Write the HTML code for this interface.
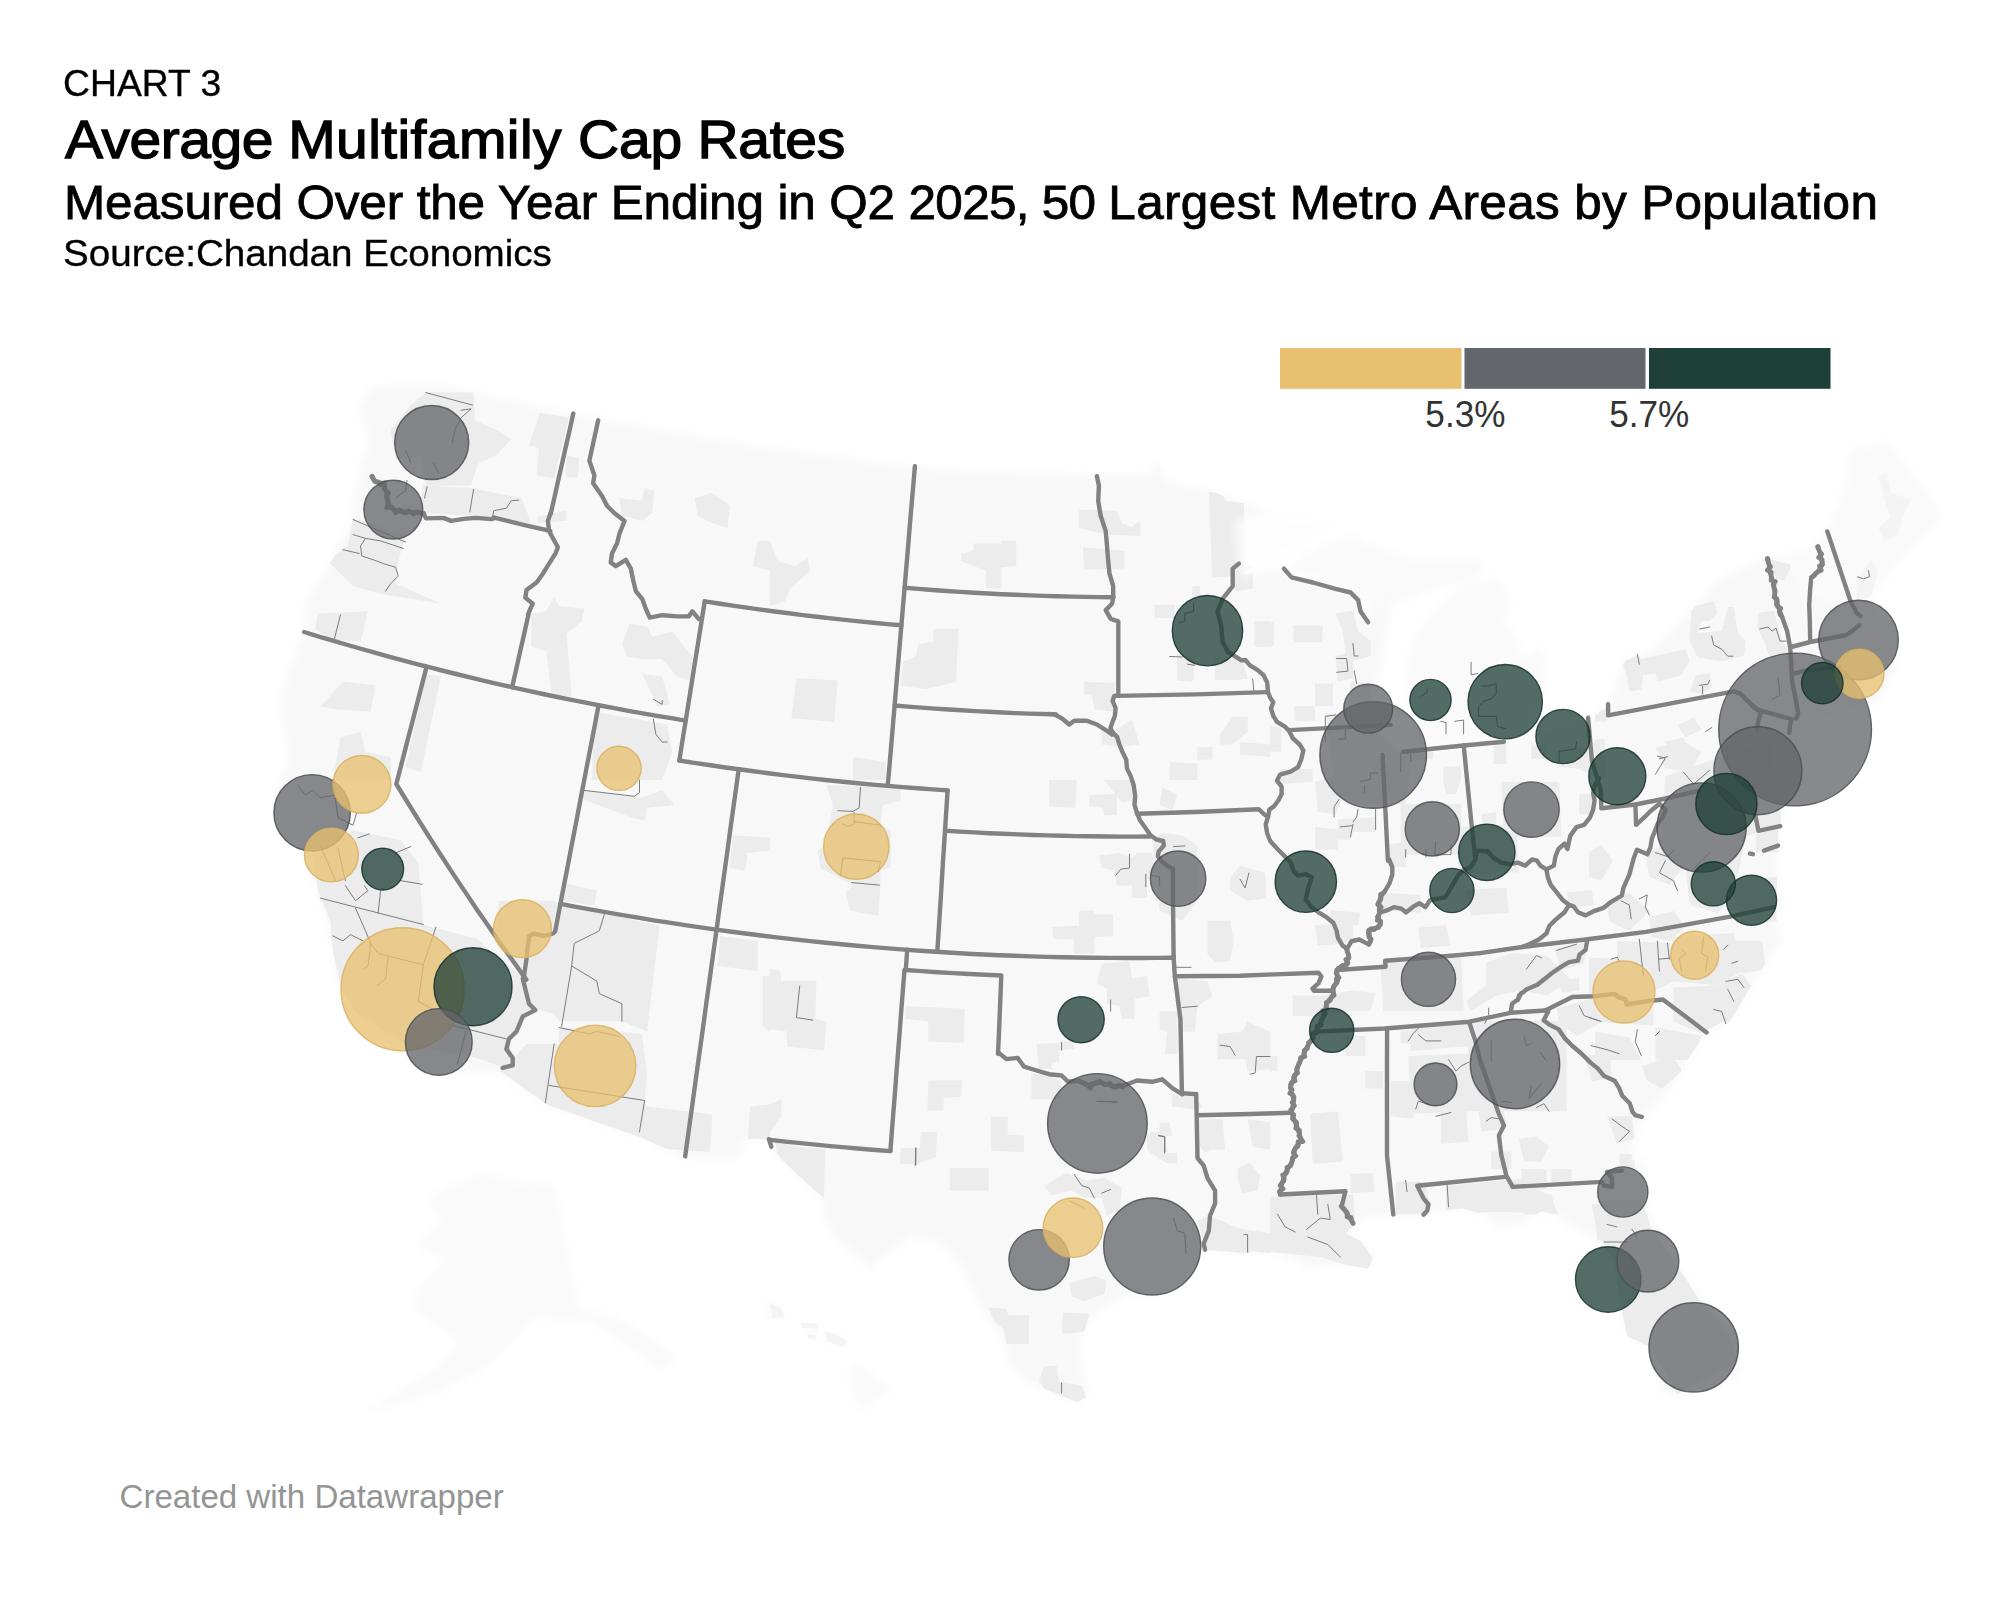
<!DOCTYPE html>
<html><head><meta charset="utf-8"><title>Chart 3</title>
<style>
html,body{margin:0;padding:0;background:#fff;}
body{width:1989px;height:1604px;position:relative;overflow:hidden;font-family:"Liberation Sans",Arial,sans-serif;color:#000;}
.t{position:absolute;left:64px;white-space:nowrap;line-height:1;transform-origin:0 0;}
#t1{left:63px;top:65.3px;font-size:37.8px;transform:scaleX(0.987);-webkit-text-stroke:0.35px #000;}
#t2{left:65px;top:113.3px;font-size:53.5px;transform:scaleX(1.065);-webkit-text-stroke:1.3px #000;}
#t3{left:63.5px;top:179px;font-size:47.3px;transform:scaleX(1.0455);-webkit-text-stroke:0.8px #000;}
#t4{left:63px;top:235.5px;font-size:36.2px;transform:scaleX(1.066);-webkit-text-stroke:0.35px #000;}
#ft{position:absolute;left:119.5px;top:1480.2px;font-size:33.1px;color:#949494;white-space:nowrap;line-height:1;}
svg{position:absolute;left:0;top:0;}
.lg{font-size:37px;fill:#333;font-family:"Liberation Sans",Arial,sans-serif;}
</style></head><body>
<svg width="1989" height="1604" viewBox="0 0 1989 1604">
<defs><filter id="bs" x="-2%" y="-2%" width="104%" height="104%"><feGaussianBlur stdDeviation="0.6"/></filter><filter id="bm"><feGaussianBlur stdDeviation="0.5"/></filter><filter id="bl" x="-5%" y="-5%" width="110%" height="110%"><feGaussianBlur stdDeviation="4"/></filter><clipPath id="lc"><path d="M423.5 385.1 L446.1 386.4 L572.5 414.0 L750.0 445.5 L914.7 467.6 L1096.9 476.1 L1152.2 474.4 L1154.7 463.1 L1162.3 465.6 L1163.5 480.7 L1210.0 490.7 L1250.0 505.8 L1290.0 520.0 L1335.0 522.0 L1300.0 545.0 L1262.0 562.0 L1240.0 575.0 L1262.0 572.0 L1284.0 568.6 L1283.9 568.6 L1291.5 577.4 L1312.8 582.5 L1335.5 588.8 L1350.6 592.5 L1358.1 600.1 L1360.6 611.4 L1368.1 622.2 L1385.0 600.0 L1392.0 585.0 L1386.0 640.0 L1376.0 690.0 L1380.0 735.0 L1398.0 752.0 L1506.0 742.0 L1540.0 735.0 L1589.0 722.0 L1608.0 704.0 L1625.2 661.1 L1655.4 647.0 L1693.6 608.8 L1717.7 578.7 L1768.0 558.5 L1790.1 564.6 L1810.2 588.7 L1830.3 600.8 L1856.5 604.8 L1870.5 598.8 L1896.7 665.1 L1880.0 700.0 L1840.0 712.0 L1800.0 725.0 L1780.1 826.5 L1778.0 852.6 L1776.0 917.0 L1782.1 941.1 L1759.9 971.3 L1729.8 1021.5 L1706.6 1032.4 L1688.5 1058.0 L1665.9 1095.7 L1641.8 1116.9 L1631.2 1160.6 L1644.7 1160.6 L1642.2 1185.7 L1647.2 1210.8 L1664.8 1248.5 L1682.4 1273.7 L1702.5 1298.8 L1735.2 1336.5 L1740.2 1374.2 L1689.9 1394.3 L1664.8 1394.3 L1649.7 1346.6 L1627.1 1336.5 L1622.0 1311.4 L1614.5 1261.1 L1607.0 1251.1 L1601.9 1241.0 L1576.8 1230.9 L1559.2 1215.9 L1541.6 1210.8 L1526.5 1220.9 L1501.4 1228.4 L1486.3 1215.9 L1463.7 1208.3 L1441.1 1210.8 L1423.5 1214.6 L1390.8 1214.6 L1370.7 1217.1 L1355.6 1223.4 L1345.5 1233.5 L1360.6 1241.0 L1373.2 1258.6 L1368.1 1268.6 L1338.0 1263.6 L1310.3 1268.6 L1295.2 1261.1 L1275.1 1253.6 L1250.0 1251.1 L1250.0 1253.6 L1205.0 1249.8 L1202.5 1261.1 L1157.2 1296.3 L1127.1 1293.8 L1101.9 1308.9 L1086.9 1324.0 L1079.3 1349.1 L1081.8 1361.7 L1086.9 1396.9 L1076.8 1401.9 L1039.1 1386.8 L1016.5 1374.2 L1008.9 1361.7 L1003.9 1341.5 L991.3 1324.0 L976.2 1298.8 L963.7 1268.6 L941.1 1243.5 L910.9 1236.0 L890.8 1251.1 L870.7 1268.6 L850.6 1251.1 L833.0 1236.0 L825.4 1220.9 L820.4 1195.7 L782.7 1160.6 L771.4 1146.7 L768.9 1139.2 L768.0 1139.0 L742.0 1139.0 L742.0 1158.0 L717.0 1158.0 L684.9 1157.2 L639.6 1137.1 L546.6 1104.4 L501.4 1074.2 L426.0 1071.7 L390.8 1044.1 L355.6 1011.4 L338.0 981.2 L333.0 951.1 L325.4 915.9 L315.4 885.7 L300.3 843.0 L273.9 810.3 L277.7 790.2 L287.7 760.0 L280.2 699.4 L287.7 674.2 L302.8 634.0 L307.8 598.8 L333.0 558.6 L350.6 520.9 L358.1 478.1 L368.1 443.0 L360.6 410.3 L368.1 387.7Z"/></clipPath></defs>
<g fill="#fafafa" filter="url(#bl)">
<path d="M442.5 1188.7 L478.7 1174.6 L555.1 1184.7 L579.2 1309.4 L619.5 1317.4 L679.8 1357.7 L659.7 1369.7 L591.3 1321.5 L535.0 1317.4 L490.7 1365.7 L434.4 1393.9 L362.0 1414.0 L438.5 1365.7 L458.6 1341.6 L414.3 1309.4 L418.3 1285.3 L446.5 1261.1 L414.3 1245.0 L442.5 1220.9 L426.4 1200.8Z"/>
<path d="M762.6 1306.4 L772.6 1301.3 L785.2 1316.4 L770.1 1318.9Z"/>
<path d="M800.3 1322.7 L820.4 1324.0 L815.4 1339.0 L807.8 1335.3Z"/>
<path d="M822.9 1330.2 L848.0 1339.0 L843.0 1346.6 L825.4 1341.5Z"/>
<path d="M853.1 1360.4 L893.3 1389.3 L860.6 1410.7 L848.0 1379.3Z"/>
<path d="M1768.0 558.5 L1810.2 548.5 L1826.3 530.4 L1840.4 500.2 L1850.4 449.9 L1886.6 439.9 L1902.7 460.0 L1930.9 496.2 L1942.9 518.3 L1900.7 560.6 L1870.5 598.8 L1856.5 604.8 L1830.3 600.8 L1810.2 588.7 L1790.1 564.6Z"/>
<path d="M1418.3 731.4 L1410.8 706.2 L1405.7 681.1 L1410.8 643.4 L1425.9 620.8 L1446.0 598.1 L1461.1 585.6 L1486.2 580.6 L1496.2 575.5 L1511.3 598.1 L1506.3 620.8 L1516.4 635.9 L1521.4 650.9 L1511.3 661.0 L1526.4 656.0 L1541.5 645.9 L1549.0 671.1 L1541.5 696.2 L1531.4 706.2 L1528.9 731.4 L1523.9 741.4 L1418.3 746.5Z"/>
<path d="M1285.1 568.0 L1332.8 585.6 L1363.0 600.7 L1370.6 620.8 L1390.7 605.7 L1410.8 598.1 L1446.0 585.6 L1476.1 578.0 L1486.2 563.0 L1466.1 555.4 L1430.9 560.4 L1400.7 555.4 L1375.6 545.4 L1353.0 535.3 L1330.3 542.8 L1305.2 555.4Z"/>
</g>
<g fill="#f8f8f8" filter="url(#bl)">
<path d="M423.5 385.1 L446.1 386.4 L572.5 414.0 L750.0 445.5 L914.7 467.6 L1096.9 476.1 L1152.2 474.4 L1154.7 463.1 L1162.3 465.6 L1163.5 480.7 L1210.0 490.7 L1250.0 505.8 L1290.0 520.0 L1335.0 522.0 L1300.0 545.0 L1262.0 562.0 L1240.0 575.0 L1262.0 572.0 L1284.0 568.6 L1283.9 568.6 L1291.5 577.4 L1312.8 582.5 L1335.5 588.8 L1350.6 592.5 L1358.1 600.1 L1360.6 611.4 L1368.1 622.2 L1385.0 600.0 L1392.0 585.0 L1386.0 640.0 L1376.0 690.0 L1380.0 735.0 L1398.0 752.0 L1506.0 742.0 L1540.0 735.0 L1589.0 722.0 L1608.0 704.0 L1625.2 661.1 L1655.4 647.0 L1693.6 608.8 L1717.7 578.7 L1768.0 558.5 L1790.1 564.6 L1810.2 588.7 L1830.3 600.8 L1856.5 604.8 L1870.5 598.8 L1896.7 665.1 L1880.0 700.0 L1840.0 712.0 L1800.0 725.0 L1780.1 826.5 L1778.0 852.6 L1776.0 917.0 L1782.1 941.1 L1759.9 971.3 L1729.8 1021.5 L1706.6 1032.4 L1688.5 1058.0 L1665.9 1095.7 L1641.8 1116.9 L1631.2 1160.6 L1644.7 1160.6 L1642.2 1185.7 L1647.2 1210.8 L1664.8 1248.5 L1682.4 1273.7 L1702.5 1298.8 L1735.2 1336.5 L1740.2 1374.2 L1689.9 1394.3 L1664.8 1394.3 L1649.7 1346.6 L1627.1 1336.5 L1622.0 1311.4 L1614.5 1261.1 L1607.0 1251.1 L1601.9 1241.0 L1576.8 1230.9 L1559.2 1215.9 L1541.6 1210.8 L1526.5 1220.9 L1501.4 1228.4 L1486.3 1215.9 L1463.7 1208.3 L1441.1 1210.8 L1423.5 1214.6 L1390.8 1214.6 L1370.7 1217.1 L1355.6 1223.4 L1345.5 1233.5 L1360.6 1241.0 L1373.2 1258.6 L1368.1 1268.6 L1338.0 1263.6 L1310.3 1268.6 L1295.2 1261.1 L1275.1 1253.6 L1250.0 1251.1 L1250.0 1253.6 L1205.0 1249.8 L1202.5 1261.1 L1157.2 1296.3 L1127.1 1293.8 L1101.9 1308.9 L1086.9 1324.0 L1079.3 1349.1 L1081.8 1361.7 L1086.9 1396.9 L1076.8 1401.9 L1039.1 1386.8 L1016.5 1374.2 L1008.9 1361.7 L1003.9 1341.5 L991.3 1324.0 L976.2 1298.8 L963.7 1268.6 L941.1 1243.5 L910.9 1236.0 L890.8 1251.1 L870.7 1268.6 L850.6 1251.1 L833.0 1236.0 L825.4 1220.9 L820.4 1195.7 L782.7 1160.6 L771.4 1146.7 L768.9 1139.2 L768.0 1139.0 L742.0 1139.0 L742.0 1158.0 L717.0 1158.0 L684.9 1157.2 L639.6 1137.1 L546.6 1104.4 L501.4 1074.2 L426.0 1071.7 L390.8 1044.1 L355.6 1011.4 L338.0 981.2 L333.0 951.1 L325.4 915.9 L315.4 885.7 L300.3 843.0 L273.9 810.3 L277.7 790.2 L287.7 760.0 L280.2 699.4 L287.7 674.2 L302.8 634.0 L307.8 598.8 L333.0 558.6 L350.6 520.9 L358.1 478.1 L368.1 443.0 L360.6 410.3 L368.1 387.7Z"/>
</g>
<g fill="#f4f4f4">
<path d="M1856.5 580.8 L1870.5 560.7 L1878.6 570.7 L1870.5 596.9 L1856.5 600.9Z"/>
<path d="M1878.6 476.2 L1886.6 472.2 L1890.7 492.3 L1910.8 500.3 L1902.7 516.4 L1898.7 534.5 L1884.6 540.6 L1878.6 528.5 L1890.7 516.4 L1884.6 500.3Z"/>
<path d="M770.0 1303.7 L780.1 1306.2 L785.1 1317.6 L772.5 1318.8Z"/>
<path d="M800.2 1322.6 L817.8 1323.8 L817.8 1328.9 L801.4 1327.6Z"/>
<path d="M807.7 1333.9 L816.5 1335.2 L816.5 1340.2 L807.7 1338.9Z"/>
<path d="M824.0 1331.4 L835.4 1333.9 L847.9 1341.4 L842.9 1346.5 L827.8 1341.4Z"/>
</g>
<g clip-path="url(#lc)"><g fill="#ececec" filter="url(#bm)">
<path d="M425.9 392.6 L473.6 392.6 L474.9 420.2 L496.2 430.3 L511.3 439.1 L496.2 455.4 L478.6 463.0 L471.1 485.6 L425.9 485.6 L420.8 455.4 L395.7 460.4 L390.7 430.3 L410.8 405.1Z"/>
<path d="M540.2 412.7 L569.1 417.7 L554.1 478.0 L536.5 475.5 L539.0 447.9 L528.9 445.4Z"/>
<path d="M566.6 455.4 L579.2 457.9 L577.9 478.0 L565.4 476.8Z"/>
<path d="M536.5 517.0 L565.4 510.7 L566.6 520.8 L537.7 523.3Z"/>
<path d="M423.3 485.6 L471.1 488.1 L521.4 498.1 L531.4 523.3 L493.7 517.0 L423.3 513.2 L420.8 500.7Z"/>
<path d="M353.0 518.3 L405.7 535.9 L398.2 561.0 L395.7 583.6 L440.9 603.7 L410.8 598.7 L380.6 593.7 L353.0 586.1 L327.8 561.0 L347.9 545.9Z"/>
<path d="M317.8 613.8 L368.0 611.3 L360.5 641.4 L330.3 638.9 L315.2 628.9Z"/>
<path d="M531.4 613.8 L546.5 611.3 L554.1 596.2 L559.1 606.2 L584.2 608.8 L581.7 621.3 L566.6 633.9 L571.7 696.7 L551.5 694.2 L546.5 651.5 L531.4 646.5Z"/>
<path d="M621.9 644.0 L629.5 623.8 L647.1 626.4 L652.1 636.4 L672.2 631.4 L692.3 656.5 L692.3 681.7 L677.2 676.6 L662.2 659.0 L642.0 659.0 L627.0 656.5Z"/>
<path d="M619.4 498.1 L642.0 500.7 L644.6 488.1 L654.6 490.6 L652.1 513.2 L642.0 520.8 L621.9 515.7Z"/>
<path d="M694.8 498.1 L712.4 493.1 L730.0 505.7 L727.5 528.3 L712.4 523.3 L697.4 515.7Z"/>
<path d="M757.7 540.9 L770.0 540.9 L770.0 571.1 L752.7 566.0Z"/>
<path d="M642.0 674.1 L662.2 676.6 L669.7 704.3 L657.1 706.8 L649.6 689.2Z"/>
<path d="M425.9 674.1 L440.9 676.6 L420.8 772.2 L405.7 767.1Z"/>
<path d="M342.9 681.7 L375.6 685.4 L370.6 711.8 L335.4 709.3 L320.3 706.8Z"/>
<path d="M594.3 711.8 L667.2 724.4 L672.2 752.0 L662.2 779.9 L591.8 779.9Z"/>
<path d="M340.4 737.0 L360.5 731.9 L365.5 752.0 L390.7 757.1 L390.7 779.9 L332.8 779.9Z"/>
<path d="M312.7 852.9 L353.0 830.3 L400.7 840.3 L418.3 863.0 L423.3 924.5 L435.9 928.3 L476.1 938.4 L521.4 976.1 L534.0 1006.2 L511.3 1038.9 L508.8 1069.1 L471.1 1056.5 L410.8 1046.5 L345.4 1006.2 L332.8 950.9 L330.3 920.8 L317.8 890.6Z"/>
<path d="M498.8 900.7 L554.1 900.7 L559.1 905.7 L604.3 913.2 L659.6 925.8 L647.1 1031.4 L621.9 1021.3 L559.1 1021.3 L554.1 1013.8 L534.0 1008.8 L523.9 976.1 L496.2 930.8Z"/>
<path d="M526.4 1044.0 L559.1 1044.0 L559.1 1026.4 L642.0 1033.9 L647.1 1074.1 L644.6 1101.8 L647.1 1106.8 L712.4 1114.3 L709.9 1152.0 L639.5 1147.0 L614.4 1137.0 L546.5 1104.3 L501.3 1071.6Z"/>
<path d="M564.1 883.1 L596.8 890.6 L594.3 905.7 L561.6 900.7Z"/>
<path d="M581.7 790.1 L642.0 797.6 L662.2 790.1 L674.7 805.1 L647.1 807.7 L644.6 820.2 L632.0 817.7 L584.2 800.1Z"/>
<path d="M732.5 835.3 L770.0 837.8 L770.0 850.4 L747.6 852.9 L745.1 870.5 L730.0 868.0Z"/>
<path d="M720.0 935.9 L757.7 940.9 L757.7 971.1 L717.5 966.0Z"/>
<path d="M762.7 976.1 L770.0 976.1 L770.0 1031.4 L762.7 1026.4Z"/>
<path d="M750.1 1106.8 L770.0 1104.3 L770.0 1142.0 L747.6 1139.5Z"/>
<path d="M961.1 553.5 L973.6 550.9 L973.6 543.4 L1001.3 543.4 L1001.3 540.9 L1016.4 540.9 L1016.4 566.0 L1001.3 567.3 L1001.3 588.6 L986.2 588.6 L986.2 571.1 L973.6 566.0 L961.1 561.0Z"/>
<path d="M1079.2 509.5 L1116.9 510.7 L1121.9 523.3 L1132.0 527.1 L1139.5 520.8 L1140.8 535.9 L1106.9 534.6 L1079.2 528.3Z"/>
<path d="M1083.0 547.2 L1124.4 550.9 L1124.4 568.5 L1084.2 569.8Z"/>
<path d="M1208.7 491.9 L1222.5 493.1 L1225.0 500.7 L1243.9 503.2 L1245.1 576.1 L1212.4 577.3Z"/>
<path d="M1154.6 605.0 L1174.7 605.0 L1172.2 616.3 L1154.6 615.0Z"/>
<path d="M1177.2 654.0 L1192.3 656.5 L1192.3 681.7 L1177.2 680.4Z"/>
<path d="M1214.9 656.5 L1242.6 659.0 L1247.6 679.1 L1217.5 679.1Z"/>
<path d="M1232.5 571.1 L1252.7 569.8 L1252.7 588.6 L1235.1 591.2Z"/>
<path d="M1255.2 621.3 L1270.0 621.3 L1270.0 646.5 L1255.2 646.5Z"/>
<path d="M1192.3 586.1 L1199.9 586.1 L1199.9 596.2 L1192.3 596.2Z"/>
<path d="M933.4 628.9 L958.5 628.9 L956.0 681.7 L925.9 689.2 L900.7 685.4 L903.2 661.5 L915.8 656.5 L918.3 644.0 L933.4 641.4Z"/>
<path d="M1084.2 681.7 L1114.4 682.9 L1114.4 711.8 L1094.3 709.3 L1091.8 694.2 L1084.2 694.2Z"/>
<path d="M1101.8 726.9 L1111.9 731.9 L1132.0 719.4 L1139.5 744.5 L1121.9 747.0 L1101.8 744.5Z"/>
<path d="M770.0 540.9 L777.5 561.0 L795.1 566.0 L807.7 558.5 L810.2 571.1 L790.1 588.6 L785.1 601.2 L770.0 606.2Z"/>
<path d="M796.4 677.9 L837.9 680.4 L834.1 721.9 L791.4 718.1Z"/>
<path d="M853.0 757.1 L885.6 762.1 L885.6 779.9 L853.0 779.9Z"/>
<path d="M1232.5 716.9 L1247.6 716.9 L1247.6 731.9 L1232.5 744.5 L1220.0 744.5 L1220.0 734.4Z"/>
<path d="M1240.1 742.0 L1270.0 744.5 L1270.0 757.1 L1240.1 754.6Z"/>
<path d="M1197.4 747.0 L1212.4 747.0 L1212.4 759.6 L1197.4 759.6Z"/>
<path d="M1169.7 762.1 L1197.4 763.4 L1197.4 779.9 L1169.7 779.9Z"/>
<path d="M826.6 785.0 L900.7 787.5 L900.7 800.1 L883.1 805.1 L880.6 825.2 L890.7 830.3 L890.7 868.0 L880.6 870.5 L880.6 885.6 L878.1 915.7 L850.4 910.7 L845.4 893.1 L853.0 885.6 L820.3 868.0 L817.8 850.4 L825.3 845.4 L832.8 805.1Z"/>
<path d="M1049.0 780.0 L1076.7 780.0 L1075.4 807.7 L1049.0 806.4Z"/>
<path d="M1089.3 795.1 L1116.9 793.8 L1116.9 815.2 L1104.3 815.2 L1103.1 807.7 L1089.3 806.4Z"/>
<path d="M1104.3 780.0 L1132.0 780.0 L1134.5 800.1 L1121.9 802.6Z"/>
<path d="M1099.3 855.4 L1119.4 852.9 L1132.0 857.9 L1137.0 852.9 L1152.1 852.9 L1157.1 870.5 L1147.1 880.6 L1147.1 898.1 L1132.0 898.1 L1132.0 885.6 L1116.9 885.6 L1114.4 870.5 L1101.8 868.0Z"/>
<path d="M1152.1 840.3 L1162.2 832.8 L1182.3 835.3 L1197.4 845.4 L1197.4 863.0 L1197.4 900.7 L1182.3 920.8 L1159.6 910.7 L1157.1 880.6Z"/>
<path d="M1079.2 910.7 L1094.3 910.7 L1094.3 914.5 L1113.1 914.5 L1113.1 935.9 L1094.3 937.1 L1094.3 953.5 L1074.2 953.5 L1074.2 939.6 L1052.8 938.4 L1052.8 927.1 L1079.2 925.8Z"/>
<path d="M1101.8 963.5 L1129.5 961.0 L1132.0 978.6 L1147.1 976.1 L1149.6 996.2 L1134.5 998.7 L1134.5 1018.8 L1121.9 1018.8 L1119.4 1006.2 L1106.9 1003.7 L1106.9 988.6 L1096.8 983.6Z"/>
<path d="M1207.4 920.8 L1230.0 920.8 L1233.8 940.9 L1230.0 961.0 L1214.9 962.3 L1207.4 953.5Z"/>
<path d="M1230.0 878.0 L1240.1 865.5 L1265.2 873.0 L1266.5 898.1 L1247.6 900.7 L1230.0 890.6Z"/>
<path d="M1177.2 978.6 L1207.4 981.1 L1212.4 996.2 L1197.4 1006.2 L1194.8 1031.4 L1182.3 1031.4 L1179.8 1006.2Z"/>
<path d="M1159.6 1011.3 L1177.2 1011.3 L1177.2 1054.0 L1164.7 1054.0 L1167.2 1031.4 L1159.6 1028.9Z"/>
<path d="M1036.5 1044.0 L1059.1 1042.7 L1059.1 1041.4 L1074.2 1041.4 L1074.2 1049.0 L1059.1 1050.2 L1059.1 1061.5 L1051.5 1062.8 L1051.5 1069.1 L1039.0 1069.1Z"/>
<path d="M905.7 1006.2 L964.8 1008.8 L963.6 1042.7 L928.4 1041.4 L928.4 1021.3 L905.7 1018.8Z"/>
<path d="M928.4 1080.4 L962.3 1080.4 L961.1 1096.7 L943.5 1098.0 L943.5 1110.6 L927.1 1110.6Z"/>
<path d="M1031.4 1074.1 L1046.5 1074.1 L1061.6 1081.7 L1061.6 1099.3 L1031.4 1099.3Z"/>
<path d="M991.2 1116.9 L1007.6 1116.9 L1007.6 1134.4 L1023.9 1135.7 L1023.9 1152.0 L991.2 1150.8Z"/>
<path d="M920.8 1131.9 L937.2 1131.9 L935.9 1157.1 L915.8 1164.6 L899.5 1163.4 L900.7 1148.3 L919.6 1148.3Z"/>
<path d="M770.0 968.5 L780.1 971.1 L781.3 981.1 L816.5 981.1 L815.2 1018.8 L826.6 1021.3 L824.0 1050.2 L787.6 1046.5 L786.3 1031.4 L770.0 1028.9Z"/>
<path d="M770.0 1104.3 L781.3 1099.3 L781.3 1116.9 L770.0 1131.9Z"/>
<path d="M775.0 1142.0 L825.3 1152.0 L822.8 1179.9 L795.1 1179.9 L777.5 1157.1Z"/>
<path d="M1217.5 1033.9 L1242.6 1031.4 L1247.6 1021.3 L1257.7 1026.4 L1270.0 1031.4 L1270.0 1069.1 L1247.6 1071.6 L1245.1 1059.0 L1217.5 1059.0Z"/>
<path d="M1172.2 1094.2 L1194.8 1096.7 L1202.4 1106.8 L1194.8 1109.3 L1172.2 1106.8Z"/>
<path d="M1149.6 1131.9 L1164.7 1131.9 L1167.2 1152.0 L1149.6 1152.0Z"/>
<path d="M1197.4 1119.4 L1222.5 1119.4 L1225.0 1149.5 L1202.4 1149.5Z"/>
<path d="M1247.6 1119.4 L1270.0 1121.9 L1270.0 1149.5 L1252.7 1147.0Z"/>
<path d="M1162.2 787.5 L1177.2 795.1 L1172.2 810.2 L1159.6 805.1Z"/>
<path d="M951.0 1172.2 L986.2 1172.2 L986.2 1179.9 L951.0 1179.9Z"/>
<path d="M949.7 1168.0 L988.7 1168.0 L988.7 1190.6 L949.7 1190.6Z"/>
<path d="M1044.0 1185.6 L1066.6 1173.0 L1086.7 1180.6 L1104.3 1178.0 L1121.9 1188.1 L1119.4 1210.7 L1106.9 1215.7 L1101.8 1198.1 L1084.2 1198.1 L1071.7 1190.6 L1051.5 1195.6Z"/>
<path d="M1069.1 1283.6 L1094.3 1276.1 L1106.9 1281.1 L1104.3 1293.7 L1084.2 1301.2 L1071.7 1296.2Z"/>
<path d="M1062.9 1312.5 L1089.3 1313.8 L1084.2 1331.4 L1061.6 1333.9Z"/>
<path d="M988.7 1307.5 L1006.3 1308.8 L1008.8 1315.0 L1028.9 1315.0 L1028.9 1344.0 L1006.3 1344.0 L1003.8 1328.9 L993.7 1321.3Z"/>
<path d="M1044.0 1366.6 L1056.6 1365.3 L1059.1 1381.7 L1081.7 1385.4 L1086.7 1399.3 L1076.7 1401.8 L1046.5 1391.7 L1039.0 1381.7Z"/>
<path d="M1197.4 1220.8 L1209.9 1215.7 L1237.6 1228.3 L1270.0 1233.3 L1270.0 1253.5 L1209.9 1253.5 L1204.9 1245.9Z"/>
<path d="M1159.6 1122.7 L1169.7 1122.7 L1172.2 1135.3 L1164.7 1136.6 L1164.7 1152.9 L1177.2 1152.9 L1177.2 1163.0 L1165.9 1163.0 L1147.1 1150.4 L1147.1 1135.3 L1159.6 1135.3Z"/>
<path d="M1197.4 1120.2 L1222.5 1119.0 L1222.5 1142.8 L1204.9 1152.9 L1197.4 1142.8Z"/>
<path d="M1247.6 1120.2 L1270.0 1122.7 L1270.0 1142.8 L1252.7 1142.8Z"/>
<path d="M1237.6 1168.0 L1250.1 1163.0 L1260.2 1175.5 L1257.7 1190.6 L1242.6 1193.1 L1237.6 1180.6Z"/>
<path d="M777.5 1145.4 L825.3 1149.1 L824.0 1198.1 L802.7 1180.6 L777.5 1152.9Z"/>
<path d="M1293.9 625.8 L1322.8 627.1 L1321.5 640.9 L1293.9 640.9Z"/>
<path d="M1335.4 613.2 L1353.0 610.7 L1358.0 630.8 L1370.6 640.9 L1370.6 656.0 L1353.0 661.0 L1353.0 678.6 L1337.9 681.1 L1335.4 656.0 L1345.4 653.5 L1342.9 630.8Z"/>
<path d="M1315.2 683.6 L1332.8 683.6 L1332.8 706.2 L1315.2 706.2Z"/>
<path d="M1350.4 681.1 L1370.6 683.6 L1370.6 706.2 L1350.4 706.2Z"/>
<path d="M1293.9 706.2 L1315.2 706.2 L1315.2 721.3 L1295.1 721.3Z"/>
<path d="M1270.0 726.4 L1281.3 727.6 L1281.3 751.5 L1270.0 751.5Z"/>
<path d="M1325.3 713.8 L1410.8 713.8 L1425.9 751.5 L1433.4 751.5 L1433.4 759.0 L1410.8 761.5 L1405.7 804.3 L1345.4 804.3 L1332.8 769.1Z"/>
<path d="M1315.2 781.7 L1335.4 776.6 L1342.9 796.7 L1335.4 814.3 L1317.8 811.8Z"/>
<path d="M1280.1 769.1 L1312.7 769.1 L1312.7 781.7 L1280.1 784.2Z"/>
<path d="M1337.9 819.4 L1375.6 816.9 L1375.6 831.9 L1353.0 831.9 L1350.4 839.5 L1337.9 839.5Z"/>
<path d="M1315.2 826.9 L1337.9 829.4 L1337.9 849.5 L1315.2 849.5Z"/>
<path d="M1435.9 718.8 L1468.6 718.8 L1468.6 733.9 L1446.0 735.2 L1435.9 731.4Z"/>
<path d="M1493.7 744.0 L1506.3 744.0 L1506.3 764.1 L1493.7 764.1Z"/>
<path d="M1443.5 766.6 L1461.1 766.6 L1461.1 779.1 L1456.0 794.2 L1446.0 794.2 L1443.5 781.7Z"/>
<path d="M1400.7 804.3 L1461.1 804.3 L1461.1 854.6 L1400.7 854.6Z"/>
<path d="M1388.1 844.5 L1405.7 842.0 L1405.7 867.1 L1388.1 867.1Z"/>
<path d="M1435.9 678.6 L1461.1 678.6 L1461.1 706.2 L1446.0 706.2 L1443.5 718.8 L1435.9 718.8Z"/>
<path d="M1466.1 661.0 L1478.6 661.0 L1478.6 678.6 L1466.1 678.6Z"/>
<path d="M1466.1 681.1 L1521.4 671.1 L1541.5 696.2 L1534.0 731.4 L1496.2 741.4 L1471.1 731.4Z"/>
<path d="M1531.4 744.0 L1546.5 746.5 L1544.0 759.0 L1531.4 759.0Z"/>
<path d="M1559.1 746.5 L1586.7 749.0 L1596.8 738.9 L1604.3 738.9 L1606.9 776.6 L1594.3 776.6 L1579.2 769.1 L1559.1 766.6Z"/>
<path d="M1501.3 781.7 L1559.1 781.7 L1561.6 837.0 L1503.8 837.0Z"/>
<path d="M1481.2 814.3 L1496.2 811.8 L1496.2 826.9 L1483.7 829.4Z"/>
<path d="M1456.0 826.9 L1516.4 824.4 L1518.9 872.2 L1458.5 874.7Z"/>
<path d="M1579.2 794.2 L1594.3 794.2 L1594.3 814.3 L1579.2 814.3Z"/>
<path d="M1310.2 1113.8 L1337.9 1111.3 L1342.9 1161.5 L1312.7 1164.1Z"/>
<path d="M1350.4 1174.1 L1373.1 1172.9 L1374.3 1191.7 L1350.4 1193.0Z"/>
<path d="M1270.0 1196.7 L1353.0 1194.2 L1355.5 1224.4 L1375.6 1226.9 L1370.6 1272.2 L1320.3 1257.1 L1270.0 1252.0Z"/>
<path d="M1395.7 1181.7 L1425.9 1181.7 L1430.9 1214.3 L1395.7 1214.3Z"/>
<path d="M1446.0 1185.4 L1521.4 1179.1 L1546.5 1194.2 L1559.1 1214.3 L1496.2 1211.8 L1446.0 1214.3Z"/>
<path d="M1292.6 995.6 L1320.3 995.6 L1353.0 990.6 L1375.6 993.1 L1370.6 1010.7 L1353.0 1010.7 L1320.3 1015.7 L1292.6 1015.7Z"/>
<path d="M1380.6 963.0 L1461.1 955.4 L1463.6 1010.7 L1383.1 1010.7Z"/>
<path d="M1418.3 927.8 L1446.0 925.2 L1451.0 945.4 L1420.8 947.9Z"/>
<path d="M1315.2 925.2 L1353.0 922.7 L1353.0 942.8 L1317.8 945.4Z"/>
<path d="M1330.3 910.2 L1360.5 912.7 L1358.0 925.2 L1330.3 922.7Z"/>
<path d="M1378.1 892.6 L1420.8 895.1 L1420.8 912.7 L1380.6 910.2Z"/>
<path d="M1410.8 1028.3 L1471.1 1023.3 L1471.1 1045.9 L1410.8 1050.9Z"/>
<path d="M1408.3 1056.0 L1471.1 1053.5 L1471.1 1111.3 L1410.8 1113.8Z"/>
<path d="M1390.7 1081.1 L1413.3 1081.1 L1413.3 1118.8 L1390.7 1116.3Z"/>
<path d="M1440.9 1111.3 L1466.1 1111.3 L1468.6 1141.4 L1440.9 1144.0Z"/>
<path d="M1478.6 1111.3 L1503.8 1108.8 L1506.3 1128.9 L1481.2 1131.4Z"/>
<path d="M1466.1 1020.8 L1566.6 1020.8 L1566.6 1111.3 L1471.1 1111.3Z"/>
<path d="M1518.9 1138.9 L1536.5 1136.4 L1549.0 1146.5 L1541.5 1161.5 L1523.9 1161.5Z"/>
<path d="M1521.4 1169.1 L1546.5 1169.1 L1546.5 1189.2 L1521.4 1189.2Z"/>
<path d="M1491.2 1151.5 L1511.3 1151.5 L1511.3 1169.1 L1491.2 1169.1Z"/>
<path d="M1486.2 963.0 L1511.3 952.9 L1546.5 955.4 L1571.7 980.6 L1546.5 995.6 L1521.4 990.6 L1496.2 995.6 L1471.1 1010.7 L1466.1 1000.7 L1486.2 985.6Z"/>
<path d="M1554.1 947.9 L1586.7 942.8 L1584.2 963.0 L1561.6 970.5Z"/>
<path d="M1559.1 980.6 L1579.2 978.0 L1579.2 990.6 L1561.6 993.1Z"/>
<path d="M1556.6 1008.2 L1594.3 998.1 L1604.3 1020.8 L1576.7 1035.9 L1559.1 1023.3Z"/>
<path d="M1584.2 1056.0 L1609.4 1053.5 L1611.9 1078.6 L1591.8 1081.1Z"/>
<path d="M1642.0 1066.0 L1672.2 1056.0 L1682.3 1071.1 L1662.2 1088.6 L1647.1 1081.1Z"/>
<path d="M1606.9 1116.3 L1632.0 1116.3 L1634.5 1138.9 L1616.9 1144.0Z"/>
<path d="M1566.6 892.6 L1591.8 890.1 L1594.3 905.1 L1569.1 907.7Z"/>
<path d="M1466.1 890.1 L1506.3 887.5 L1508.8 912.7 L1471.1 915.2Z"/>
<path d="M1591.8 1204.3 L1642.0 1204.3 L1647.1 1226.9 L1627.0 1252.0 L1596.8 1249.5 L1596.8 1231.9Z"/>
<path d="M1521.4 1194.2 L1551.5 1194.2 L1556.6 1214.3 L1523.9 1214.3Z"/>
<path d="M1551.5 1169.1 L1571.7 1169.1 L1571.7 1184.2 L1551.5 1184.2Z"/>
<path d="M1619.4 1154.0 L1634.5 1154.0 L1634.5 1169.1 L1619.4 1169.1Z"/>
<path d="M1345.4 1035.9 L1365.5 1035.9 L1365.5 1056.0 L1345.4 1056.0Z"/>
<path d="M1365.5 1071.1 L1383.1 1071.1 L1383.1 1088.6 L1365.5 1088.6Z"/>
<path d="M1270.0 1056.0 L1277.5 1056.0 L1277.5 1071.1 L1270.0 1071.1Z"/>
<path d="M1400.7 1030.8 L1415.8 1030.8 L1415.8 1043.4 L1400.7 1043.4Z"/>
<path d="M1621.2 661.2 L1637.3 653.2 L1641.3 659.2 L1685.5 649.2 L1689.6 661.2 L1681.5 675.3 L1657.4 681.3 L1655.4 673.3 L1643.3 675.3 L1641.3 689.4 L1629.2 691.4 L1627.2 677.3Z"/>
<path d="M1691.6 606.9 L1713.7 600.9 L1717.7 613.0 L1709.7 621.0 L1701.6 621.0 L1697.6 633.1 L1721.7 631.1 L1727.8 606.9 L1733.8 606.9 L1737.8 633.1 L1745.9 641.1 L1743.9 655.2 L1721.7 661.2 L1697.6 657.2 L1689.6 641.1Z"/>
<path d="M1757.9 613.0 L1774.0 610.9 L1782.1 641.1 L1790.1 653.2 L1770.0 657.2 L1764.0 641.1 L1757.9 629.0Z"/>
<path d="M1770.0 558.7 L1790.1 556.6 L1790.1 568.7 L1784.1 580.8 L1776.0 578.8Z"/>
<path d="M1695.6 675.3 L1709.7 673.3 L1711.7 687.4 L1701.6 693.4 L1689.6 691.4Z"/>
<path d="M1677.5 725.6 L1693.6 717.5 L1701.6 729.6 L1685.5 737.6Z"/>
<path d="M1665.4 741.7 L1683.5 737.6 L1685.5 749.7 L1669.4 753.7Z"/>
<path d="M1595.0 711.5 L1607.1 709.5 L1607.1 721.5 L1595.0 721.5Z"/>
<path d="M1599.4 1200.8 L1642.2 1200.8 L1652.2 1230.9 L1674.8 1261.1 L1700.0 1301.3 L1727.6 1331.5 L1737.7 1361.7 L1677.4 1394.3 L1652.2 1349.1 L1627.1 1336.5 L1619.5 1298.8 L1612.0 1261.1 L1601.9 1236.0Z"/>
<path d="M1589.0 852.6 L1601.1 844.6 L1613.1 860.7 L1601.1 880.8 L1589.0 876.8Z"/>
<path d="M1607.1 900.9 L1629.2 892.8 L1649.3 910.9 L1629.2 931.1 L1609.1 921.0Z"/>
<path d="M1645.3 852.6 L1669.4 844.6 L1685.5 864.7 L1669.4 884.8 L1649.3 876.8Z"/>
<path d="M1655.4 748.0 L1681.5 740.0 L1701.6 752.1 L1689.6 772.2 L1665.4 768.2Z"/>
<path d="M1665.4 776.2 L1770.0 740.0 L1782.1 824.5 L1745.9 836.5 L1733.8 892.8 L1717.7 913.0 L1689.6 904.9 L1685.5 868.7 L1661.4 840.6Z"/>
<path d="M1729.8 880.8 L1778.0 876.8 L1778.0 921.0 L1741.8 925.0Z"/>
<path d="M1649.3 917.0 L1673.5 910.9 L1685.5 927.0 L1669.4 941.1 L1651.3 937.1Z"/>
<path d="M1617.2 941.1 L1673.5 943.1 L1669.4 937.1 L1733.8 933.1 L1741.8 971.3 L1717.7 985.3 L1673.5 981.3 L1649.3 993.4 L1617.2 987.4Z"/>
<path d="M1729.8 941.1 L1762.0 941.1 L1766.0 969.3 L1741.8 973.3Z"/>
<path d="M1673.5 987.4 L1717.7 985.3 L1741.8 973.3 L1753.9 989.4 L1729.8 1017.5 L1701.6 1033.6 L1673.5 1021.5Z"/>
<path d="M1717.7 1001.4 L1753.9 989.4 L1770.0 961.2 L1790.1 941.1 L1790.1 1001.4 L1729.8 1031.6Z"/>
<path d="M1755.9 834.5 L1778.0 828.5 L1778.0 852.6 L1755.9 852.6Z"/>
<path d="M1589.0 957.2 L1653.4 961.2 L1653.4 1025.6 L1589.0 1021.5Z"/>
<path d="M1595.0 1031.6 L1629.2 1037.6 L1641.3 1060.0 L1595.0 1060.0Z"/>
<path d="M1655.4 1027.6 L1701.6 1035.6 L1693.6 1060.0 L1655.4 1060.0Z"/>
<path d="M1254.4 622.5 L1274.0 622.5 L1274.0 646.6 L1254.4 646.6Z"/>
<path d="M1293.6 625.5 L1322.3 625.5 L1322.3 642.1 L1293.6 642.1Z"/>
<path d="M1240.8 565.2 L1252.9 566.7 L1252.9 584.8 L1240.8 584.8Z"/>
<path d="M1154.9 605.9 L1174.5 605.9 L1174.5 618.0 L1154.9 618.0Z"/>
<path d="M1179.0 657.2 L1194.1 657.2 L1194.1 680.0 L1179.0 680.0Z"/>
<path d="M1215.2 663.2 L1242.3 663.2 L1242.3 680.0 L1215.2 680.0Z"/>
</g></g>
<g fill="#fff" fill-opacity="0.75" filter="url(#bl)">
<path d="M1235.0 520.0 L1290.0 505.0 L1345.0 515.0 L1310.0 548.0 L1262.0 566.0 L1244.0 580.0 L1238.0 560.0Z"/>
</g>
<g fill="none" stroke="#7c7c7c" stroke-width="1" stroke-linejoin="round" stroke-linecap="round">
<path d="M425.9 392.6 L472.4 405.1"/>
<path d="M461.1 410.2 L471.1 408.9 L461.1 417.7 L454.8 430.3 L452.3 442.8"/>
<path d="M405.7 450.4 L410.8 463.0"/>
<path d="M433.4 463.0 L438.4 473.0"/>
<path d="M407.0 480.6 L405.7 490.6 L395.7 498.1"/>
<path d="M427.1 486.8 L424.6 498.1"/>
<path d="M473.6 489.4 L469.8 512.0"/>
<path d="M492.5 517.0 L493.7 510.7 L506.3 508.2 L511.3 500.7 L518.9 500.2"/>
<path d="M353.0 519.5 L405.7 542.1"/>
<path d="M353.0 534.6 L365.5 538.4 L360.5 545.9 L361.8 556.0 L373.1 559.7 L383.1 563.5 L395.7 567.3 L398.2 576.1 L390.7 583.6 L385.6 591.2"/>
<path d="M342.9 549.7 L359.2 553.5"/>
<path d="M365.5 538.4 L380.6 540.9 L403.2 548.4"/>
<path d="M340.4 615.0 L334.1 640.2"/>
<path d="M653.4 699.3 L662.2 704.3 L662.2 700.5"/>
<path d="M653.4 719.4 L655.9 734.4 L662.2 742.0 L667.2 742.0"/>
<path d="M320.3 898.1 L423.3 924.5"/>
<path d="M355.5 908.2 L365.5 930.8 L370.6 943.4 L368.0 966.0 L364.3 968.5"/>
<path d="M332.8 935.9 L342.9 940.9 L350.4 934.6 L363.0 940.9"/>
<path d="M370.6 943.4 L378.1 953.5 L423.3 964.8 L435.9 927.1"/>
<path d="M423.3 964.8 L418.3 1001.2 L440.9 1013.8"/>
<path d="M388.1 956.0 L385.6 978.6 L378.1 984.9"/>
<path d="M446.0 1023.8 L506.3 1038.9"/>
<path d="M466.1 1031.4 L457.3 1064.1"/>
<path d="M378.1 913.2 L380.6 890.6 L383.1 888.1"/>
<path d="M345.4 885.6 L355.5 900.7 L368.0 890.6 L364.3 885.6"/>
<path d="M358.0 837.8 L369.3 834.0"/>
<path d="M395.7 852.9 L410.8 846.6"/>
<path d="M400.7 880.6 L422.1 884.3"/>
<path d="M604.3 914.5 L599.3 930.8 L574.2 943.4 L571.7 966.0 L561.6 1026.4"/>
<path d="M571.7 966.0 L596.8 981.1 L599.3 993.7 L621.9 1003.7 L621.9 1021.3"/>
<path d="M559.1 1027.6 L589.3 1033.9 L596.8 1031.4 L619.4 1036.4"/>
<path d="M554.1 1044.0 L545.3 1103.0"/>
<path d="M549.0 1085.4 L644.6 1100.5 L639.5 1131.9"/>
<path d="M581.7 790.1 L634.5 796.3 L639.5 792.6 L639.5 780.0"/>
<path d="M297.7 785.0 L305.2 795.1 L312.7 790.1 L320.3 797.6 L335.4 795.1"/>
<path d="M332.8 780.0 L337.9 817.7 L353.0 825.2 L356.7 812.7"/>
<path d="M320.3 845.4 L335.4 880.6"/>
<path d="M337.9 847.9 L345.4 880.6"/>
<path d="M1193.6 603.7 L1193.6 611.3 L1184.8 613.8 L1184.8 621.3 L1179.8 622.6"/>
<path d="M1169.7 656.5 L1182.3 657.0"/>
<path d="M1187.3 664.1 L1194.8 665.3"/>
<path d="M1252.7 679.1 L1253.9 691.7"/>
<path d="M860.5 787.5 L859.2 807.7 L853.0 811.4 L837.9 810.7"/>
<path d="M854.2 812.7 L854.2 824.0 L847.9 826.5 L842.9 824.0"/>
<path d="M854.2 821.5 L880.6 825.2"/>
<path d="M840.4 875.5 L842.9 857.9 L880.6 861.7 L878.1 871.8"/>
<path d="M851.7 882.6 L879.4 885.1"/>
<path d="M799.7 986.1 L796.4 1017.6 L812.7 1020.1"/>
<path d="M1129.5 854.2 L1129.5 868.0 L1120.7 869.2 L1115.7 875.5"/>
<path d="M1145.8 874.3 L1145.8 886.8"/>
<path d="M1152.1 875.5 L1159.6 876.8 L1159.6 885.6"/>
<path d="M1173.5 846.6 L1184.8 845.9"/>
<path d="M1174.7 967.3 L1191.1 967.3"/>
<path d="M1182.3 1007.5 L1197.4 1006.2"/>
<path d="M1110.6 1000.0 L1110.6 1011.3"/>
<path d="M1061.6 1042.7 L1061.6 1050.2"/>
<path d="M1240.1 879.3 L1245.1 888.1 L1248.9 873.0"/>
<path d="M1220.0 1045.2 L1230.0 1046.5 L1235.1 1055.3"/>
<path d="M1270.0 1056.5 L1256.4 1056.5 L1255.2 1072.9 L1250.1 1074.1"/>
<path d="M1099.3 1101.3 L1116.9 1101.8"/>
<path d="M1158.4 1135.7 L1164.7 1137.0 L1164.7 1152.0"/>
<path d="M915.8 1148.3 L915.8 1164.6"/>
<path d="M1074.2 1174.3 L1081.7 1185.6 L1089.3 1188.1 L1094.3 1198.1"/>
<path d="M1101.8 1193.1 L1110.6 1189.4"/>
<path d="M1069.1 1200.7 L1084.2 1208.2"/>
<path d="M1173.5 1218.3 L1177.2 1230.8 L1184.8 1233.3 L1186.0 1253.5"/>
<path d="M1158.4 1135.3 L1164.7 1136.6 L1164.7 1152.9"/>
<path d="M1243.9 1234.6 L1247.6 1234.6 L1247.6 1252.2"/>
<path d="M1061.6 1382.9 L1061.6 1393.0"/>
<path d="M915.8 1147.9 L915.3 1165.5"/>
<path d="M1096.8 1101.4 L1116.9 1102.1"/>
<path d="M1353.0 643.4 L1354.2 656.0 L1358.0 656.0"/>
<path d="M1336.6 658.5 L1346.7 658.5 L1347.9 671.1 L1336.6 672.3"/>
<path d="M1354.2 671.1 L1356.7 683.6"/>
<path d="M1325.3 741.4 L1325.3 716.3 L1335.4 715.0"/>
<path d="M1337.9 738.9 L1345.4 738.9 L1345.4 728.9"/>
<path d="M1360.5 781.7 L1370.6 779.1 L1370.6 772.9 L1378.1 772.9"/>
<path d="M1364.3 793.0 L1364.3 785.4"/>
<path d="M1400.7 752.8 L1400.7 771.6"/>
<path d="M1410.8 754.0 L1410.8 761.5"/>
<path d="M1420.8 696.2 L1427.1 692.4 L1427.1 688.6"/>
<path d="M1471.1 662.3 L1471.1 674.8 L1477.4 673.6"/>
<path d="M1440.9 721.3 L1446.0 722.6 L1446.0 733.9"/>
<path d="M1454.8 721.3 L1463.6 720.1 L1463.6 733.9"/>
<path d="M1481.2 686.1 L1488.7 686.1 L1496.2 683.6 L1496.2 693.7 L1491.2 698.7 L1483.7 701.2 L1478.6 706.2 L1478.6 716.3 L1496.2 716.3 L1497.5 726.4 L1506.3 728.9"/>
<path d="M1559.1 761.5 L1559.1 751.5 L1575.4 749.0 L1576.7 741.4"/>
<path d="M1334.1 816.9 L1334.1 806.8 L1339.1 799.3"/>
<path d="M1353.0 821.9 L1356.7 816.9 L1358.0 809.3"/>
<path d="M1375.6 809.3 L1375.6 829.4"/>
<path d="M1350.4 837.0 L1353.0 824.4"/>
<path d="M1340.4 826.9 L1351.7 825.7"/>
<path d="M1405.7 849.5 L1405.7 857.1"/>
<path d="M1425.9 849.5 L1425.9 857.1"/>
<path d="M1435.9 842.0 L1434.7 854.6 L1451.0 854.6 L1451.0 844.5"/>
<path d="M1408.3 1040.9 L1413.3 1033.3 L1418.3 1028.3"/>
<path d="M1418.3 1034.6 L1425.9 1040.9 L1440.9 1040.9"/>
<path d="M1448.5 1059.7 L1456.0 1071.1 L1461.1 1066.0 L1468.6 1062.3"/>
<path d="M1415.8 1108.8 L1418.3 1101.2 L1430.9 1105.0"/>
<path d="M1435.9 1116.3 L1451.0 1112.5"/>
<path d="M1486.2 1121.3 L1491.2 1117.6 L1498.8 1118.8"/>
<path d="M1536.5 1107.5 L1544.0 1103.7 L1549.0 1111.3"/>
<path d="M1491.2 1040.9 L1491.2 1061.0"/>
<path d="M1523.9 1035.9 L1526.4 1045.9 L1531.4 1043.4"/>
<path d="M1540.2 1052.2 L1546.5 1061.0"/>
<path d="M1531.4 1086.1 L1528.9 1098.7 L1541.5 1083.6"/>
<path d="M1501.3 1101.2 L1511.3 1102.5"/>
<path d="M1526.4 969.2 L1536.5 955.4 L1541.5 957.9"/>
<path d="M1556.6 950.4 L1576.7 944.1"/>
<path d="M1488.7 1008.2 L1488.7 1015.7 L1484.9 1023.3"/>
<path d="M1579.2 1005.7 L1584.2 1015.7 L1599.3 1020.8"/>
<path d="M1611.9 1118.8 L1621.9 1126.4 L1629.5 1131.4 L1619.4 1141.4"/>
<path d="M1316.5 1195.5 L1317.8 1214.3"/>
<path d="M1327.8 1204.3 L1330.3 1219.4 L1320.3 1218.1 L1306.5 1229.4"/>
<path d="M1345.4 1208.1 L1347.9 1219.4"/>
<path d="M1277.5 1214.3 L1285.1 1226.9 L1295.1 1231.9"/>
<path d="M1307.7 1237.0 L1327.8 1244.5 L1340.4 1257.1"/>
<path d="M1447.2 1185.4 L1448.5 1206.8"/>
<path d="M1405.7 1180.4 L1407.0 1191.7"/>
<path d="M1606.9 1224.4 L1616.9 1226.9"/>
<path d="M1604.3 1242.0 L1627.0 1242.0"/>
<path d="M1632.0 1229.4 L1637.0 1237.0"/>
<path d="M1699.6 629.0 L1709.7 627.0"/>
<path d="M1711.7 636.1 L1713.7 645.1 L1721.7 649.2 L1727.8 656.2 L1732.8 656.2"/>
<path d="M1759.9 629.0 L1768.0 627.0 L1772.0 631.1 L1776.0 628.0 L1780.1 641.1 L1786.1 641.1"/>
<path d="M1857.5 576.8 L1863.5 578.8 L1869.5 576.8 L1868.5 570.7"/>
<path d="M1637.3 654.2 L1639.3 664.2"/>
<path d="M1699.6 685.3 L1707.7 684.3 L1709.7 680.3"/>
<path d="M1702.6 686.4 L1702.6 694.4"/>
<path d="M1778.0 677.3 L1780.1 695.4 L1772.0 699.4"/>
<path d="M1705.6 731.6 L1711.7 727.6"/>
<path d="M1659.4 758.8 L1667.4 756.7"/>
<path d="M1657.4 756.1 L1665.4 758.1 L1655.4 774.2"/>
<path d="M1683.5 772.2 L1693.6 784.2 L1709.7 770.2"/>
<path d="M1655.4 852.6 L1667.4 856.6 L1673.5 850.6"/>
<path d="M1665.4 860.7 L1659.4 872.7 L1673.5 880.8 L1677.5 890.8"/>
<path d="M1639.3 898.9 L1647.3 894.9 L1645.3 906.9 L1649.3 915.0"/>
<path d="M1621.2 900.9 L1629.2 904.9 L1631.2 919.0"/>
<path d="M1639.3 939.1 L1643.3 975.3"/>
<path d="M1657.4 941.1 L1659.4 971.3"/>
<path d="M1667.4 943.1 L1669.4 959.2"/>
<path d="M1658.4 959.2 L1669.4 958.2"/>
<path d="M1681.5 949.2 L1685.5 953.2 L1679.5 959.2 L1681.5 971.3"/>
<path d="M1703.6 937.1 L1701.6 953.2 L1707.7 957.2 L1705.6 971.3"/>
<path d="M1723.7 949.2 L1727.8 945.1"/>
<path d="M1731.8 963.2 L1737.8 961.2"/>
<path d="M1725.8 981.3 L1737.8 979.3 L1743.9 987.4"/>
<path d="M1727.8 989.4 L1733.8 1001.4"/>
<path d="M1713.7 1009.5 L1721.7 1011.5 L1725.8 1023.6"/>
<path d="M1637.3 1029.6 L1635.3 1041.7 L1641.3 1055.7"/>
<path d="M1655.4 1035.6 L1659.4 1031.6"/>
<path d="M1589.0 1017.5 L1601.1 1021.5"/>
<path d="M1591.0 1045.7 L1607.1 1049.7 L1619.2 1053.7"/>
<path d="M1611.1 959.2 L1617.2 957.2 L1619.2 961.2"/>
<path d="M1693.6 868.7 L1701.6 860.7 L1709.7 852.6"/>
</g>
<g fill="none" stroke="#828282" stroke-width="4.4" stroke-linejoin="round" stroke-linecap="round" filter="url(#bs)">
<path d="M304.2 632.0 L318.1 636.3 L332.0 640.4 L346.0 644.5 L359.9 648.5 L373.9 652.4 L387.9 656.3 L401.9 660.1 L415.9 663.8 L430.0 667.4 L444.0 671.0 L458.1 674.5 L472.2 677.9 L486.4 681.3 L500.5 684.6 L514.7 687.8 L528.8 690.9 L543.0 694.0 L557.2 697.0 L571.4 699.9 L585.7 702.7 L599.9 705.5 L614.2 708.2 L628.5 710.8 L642.7 713.4 L657.1 715.8 L671.4 718.2 L685.7 720.6"/>
<path d="M426.6 666.6 L421.6 686.1 L416.5 705.7 L411.5 725.3 L406.4 744.9 L401.4 764.4 L396.3 784.0 L407.3 802.0 L418.5 820.0 L429.8 837.9 L441.3 855.8 L452.9 873.6 L464.8 891.4 L476.7 909.2 L488.9 926.8 L501.2 944.5 L513.7 962.1 L526.3 979.6"/>
<path d="M512.1 687.2 L516.2 669.2 L520.2 651.2 L524.3 633.2 L528.3 615.3"/>
<path d="M550.3 530.9 L539.1 528.4 L527.8 525.8 L516.6 523.1 L505.4 520.4 L494.1 517.7"/>
<path d="M573.3 413.6 L569.6 430.2 L565.8 446.8 L562.1 463.4 L558.3 480.0 L554.6 496.7 L550.8 513.4"/>
<path d="M598.6 705.2 L595.0 724.1 L591.4 742.9 L587.7 761.8 L584.1 780.7 L580.5 799.5 L576.9 818.4 L573.2 837.3 L569.6 856.2 L566.0 875.0 L562.3 893.9 L558.7 912.8 L555.1 931.7"/>
<path d="M560.4 903.9 L576.0 906.8 L591.5 909.7 L607.0 912.4 L622.6 915.1 L638.1 917.7 L653.7 920.3 L669.3 922.7 L684.9 925.1 L700.6 927.4 L716.2 929.6 L731.8 931.7 L747.5 933.7 L763.2 935.7 L778.8 937.6 L794.5 939.4 L810.2 941.1 L825.9 942.7 L841.6 944.2 L857.3 945.7 L873.1 947.1 L888.8 948.4 L904.5 949.6 L920.3 950.7 L936.0 951.8 L951.8 952.8 L967.6 953.7 L983.3 954.5 L999.1 955.2 L1014.9 955.8 L1030.7 956.4 L1046.4 956.9 L1062.2 957.2 L1078.0 957.5 L1093.8 957.8 L1109.6 957.9 L1125.4 958.0 L1141.2 958.0 L1156.9 957.9 L1172.7 957.7"/>
<path d="M738.7 769.3 L736.0 788.7 L733.3 808.0 L730.6 827.4 L728.0 846.8 L725.3 866.2 L722.6 885.6 L719.9 904.9 L717.3 924.3 L714.6 943.7 L711.9 963.1 L709.2 982.5 L706.5 1001.8 L703.9 1021.2 L701.2 1040.6 L698.5 1059.9 L695.8 1079.2 L693.2 1098.5 L690.5 1117.9 L687.8 1137.1 L685.2 1156.4"/>
<path d="M679.3 760.5 L694.1 762.8 L709.0 765.0 L723.8 767.2 L738.7 769.3 L753.5 771.3 L768.4 773.2 L783.3 775.1 L798.2 776.9 L813.1 778.6 L828.0 780.2 L842.9 781.7 L857.9 783.2 L872.8 784.6 L887.7 785.9 L902.7 787.1 L917.7 788.3 L932.6 789.4 L947.6 790.4"/>
<path d="M704.7 601.3 L701.6 621.1 L698.4 641.0 L695.2 660.8 L692.1 680.7 L688.9 700.6 L685.7 720.6 L682.5 740.5 L679.3 760.5"/>
<path d="M704.7 601.3 L718.7 603.5 L732.7 605.6 L746.7 607.6 L760.7 609.6 L774.8 611.5 L788.8 613.3 L802.8 615.1 L816.9 616.8 L831.0 618.4 L845.0 619.9 L859.1 621.4 L873.2 622.7 L887.3 624.1 L901.4 625.3"/>
<path d="M914.9 466.3 L913.2 486.1 L911.5 505.8 L909.8 525.7 L908.2 545.5 L906.5 565.4 L904.8 585.4 L903.1 605.3 L901.4 625.3 L899.7 645.3 L898.0 665.3 L896.3 685.4 L894.6 705.5 L892.9 725.6 L891.2 745.7 L889.5 765.8 L887.7 785.9"/>
<path d="M904.6 587.7 L918.5 588.9 L932.4 590.0 L946.3 591.0 L960.2 591.9 L974.1 592.7 L988.0 593.5 L1001.9 594.2 L1015.8 594.8 L1029.8 595.4 L1043.7 595.9 L1057.6 596.3 L1071.5 596.6 L1085.5 596.9 L1099.4 597.1 L1113.4 597.2"/>
<path d="M894.6 705.5 L908.0 706.6 L921.5 707.6 L934.9 708.6 L948.4 709.5 L961.8 710.3 L975.3 711.1 L988.7 711.8 L1002.2 712.5 L1015.7 713.1 L1029.2 713.6 L1042.6 714.0 L1056.1 714.4"/>
<path d="M947.6 790.4 L946.3 810.5 L945.0 830.7 L943.7 850.9 L942.4 871.1 L941.2 891.3 L939.9 911.5 L938.6 931.7 L937.3 951.9"/>
<path d="M945.0 830.7 L959.6 831.6 L974.3 832.4 L988.9 833.2 L1003.5 833.8 L1018.2 834.4 L1032.8 835.0 L1047.4 835.4 L1062.1 835.8 L1076.7 836.1 L1091.4 836.3 L1106.0 836.5 L1120.7 836.6 L1135.3 836.6 L1150.0 836.5"/>
<path d="M907.2 949.8 L905.8 970.0"/>
<path d="M904.5 969.9 L902.9 990.1 L901.3 1010.2 L899.8 1030.4 L898.2 1050.5 L896.6 1070.7 L895.1 1090.8 L893.5 1110.9 L891.9 1131.0 L890.4 1151.1"/>
<path d="M905.8 970.0 L921.7 971.1 L937.6 972.2 L953.5 973.1 L969.5 974.0 L985.4 974.8 L1001.3 975.5 L1000.5 995.1 L999.7 1014.7 L998.9 1034.3 L998.0 1053.9"/>
<path d="M890.4 1151.1 L875.3 1150.0 L860.3 1148.7 L845.3 1147.4 L830.3 1146.1 L815.4 1144.6 L800.4 1143.1 L785.4 1141.6 L770.4 1139.9"/>
<path d="M372.4 476.1 L374.9 481.9 L383.2 483.2 L387.0 493.2 L387.8 505.8 L395.8 510.8 L408.4 512.1 L423.5 513.3 L426.0 518.4 L443.6 517.9 L451.1 520.9 L463.7 518.9 L476.2 517.9 L491.3 519.1 L494.3 517.9"/>
<path d="M550.9 512.3 L547.9 520.9 L549.1 530.9 L551.7 536.0 L557.9 547.3 L555.4 553.6 L549.1 563.6 L542.9 573.7 L536.6 582.5 L526.5 590.0 L525.3 597.6 L532.8 603.8 L530.3 608.9 L528.0 614.9"/>
<path d="M598.2 420.3 L589.4 460.6 L594.4 475.6 L593.1 483.2 L601.9 495.7 L607.0 505.8 L614.5 513.3 L624.6 520.9 L619.5 533.5 L617.0 543.5 L612.0 553.6 L610.7 562.4 L615.8 566.1 L625.8 559.8 L630.8 568.6 L633.4 581.2 L635.9 591.3 L642.2 598.8 L645.9 608.9 L649.7 617.7 L662.3 615.2 L677.4 616.4 L688.7 616.4 L692.4 611.4 L698.7 618.9"/>
<path d="M552.9 933.5 L544.1 936.0 L534.1 933.5 L529.0 936.0 L526.5 958.6 L524.0 976.2 L522.8 978.7 L526.5 993.8 L529.0 1003.8 L535.3 1010.1 L522.8 1016.4 L516.5 1031.5 L508.9 1039.0 L506.4 1049.1 L512.7 1057.9 L512.7 1065.4 L502.6 1067.9"/>
<path d="M1096.9 476.1 L1098.9 485.7 L1098.2 500.8 L1100.7 515.9 L1105.7 530.9 L1107.0 546.0 L1108.2 561.1 L1109.5 573.7 L1113.2 586.2 L1113.2 597.6 L1112.0 603.8 L1105.7 610.1 L1110.7 618.9 L1118.3 621.4 L1118.3 695.6"/>
<path d="M1049.1 713.9 L1054.2 714.4 L1061.7 718.2 L1069.3 724.5 L1074.3 720.7 L1086.9 720.7 L1096.9 724.5 L1107.0 730.8 L1112.0 734.6"/>
<path d="M1116.8 695.4 L1114.1 696.2 L1112.6 700.7 L1115.6 708.3 L1114.9 715.8 L1112.6 721.8 L1110.4 727.9 L1112.6 732.4"/>
<path d="M1112.6 732.4 L1117.1 736.9 L1119.4 744.5 L1122.4 752.0 L1126.2 759.5 L1127.0 768.6 L1130.7 776.1 L1133.7 785.2 L1135.2 795.7 L1134.5 804.8 L1136.8 812.3 L1139.8 819.9 L1145.1 827.4 L1150.3 835.0 L1156.4 839.5 L1163.2 841.0 L1163.9 845.5 L1158.6 851.6 L1157.9 856.1 L1162.4 862.1 L1168.4 866.6 L1173.0 868.9 L1173.0 900.0"/>
<path d="M1173.0 900.0 L1173.6 956.1"/>
<path d="M1116.8 695.9 L1195.6 694.4 L1267.7 692.1"/>
<path d="M1136.8 813.8 L1195.6 812.0 L1258.9 809.3 L1263.5 813.8 L1268.0 816.9"/>
<path d="M1238.9 563.6 L1232.7 568.6 L1232.7 586.2 L1222.6 598.8 L1217.6 611.4 L1221.3 626.5 L1222.6 641.5 L1227.6 651.6 L1241.5 660.4 L1245.4 660.0 L1249.9 665.3 L1257.4 669.8 L1263.5 675.1 L1267.2 682.6 L1268.0 692.1 L1270.2 697.7 L1273.3 702.2 L1271.0 708.3 L1273.3 715.8 L1277.0 721.8 L1284.6 726.4 L1289.1 730.9 L1292.9 738.4 L1299.7 744.5 L1303.4 750.5 L1301.2 759.5 L1298.1 767.1 L1290.6 771.6 L1280.0 774.6 L1277.0 780.7 L1281.6 786.7 L1281.6 794.2 L1278.5 800.3 L1274.0 806.3 L1269.5 809.3 L1268.0 816.9 L1265.7 824.4 L1267.2 833.5 L1270.2 841.0 L1277.0 848.5 L1284.6 856.1 L1290.6 862.1 L1293.6 871.2 L1298.1 875.7 L1305.7 874.2 L1311.7 877.2 L1308.7 886.2 L1305.7 900.0 L1306.4 900.3 L1310.9 906.4 L1318.4 912.4 L1326.0 916.9 L1333.5 923.0 L1336.5 930.5 L1338.0 938.0 L1342.6 945.6 L1347.1 948.6 L1348.6 957.6 L1345.6 965.2 L1338.0 968.2 L1336.5 972.7 L1338.0 980.3 L1333.5 986.3 L1332.0 990.8 L1334.3 995.4 L1329.0 999.9 L1326.0 1005.9 L1324.5 1013.5 L1322.2 1019.5 L1318.4 1027.0 L1313.9 1034.6 L1310.9 1040.6 L1306.4 1048.1 L1303.3 1055.7 L1298.8 1063.2 L1296.5 1072.6 L1290.2 1087.7 L1294.0 1100.2 L1291.5 1112.8 L1296.5 1125.4 L1301.5 1140.4 L1295.2 1148.0 L1292.7 1160.6 L1285.2 1173.1 L1281.4 1185.7 L1280.2 1194.5 L1345.5 1191.2 L1341.8 1205.8 L1346.8 1213.3 L1353.1 1223.4"/>
<path d="M1289.1 730.1 L1390.8 724.9"/>
<path d="M1347.1 948.6 L1351.6 941.1 L1359.2 939.5 L1368.2 944.1 L1371.2 939.5 L1368.2 933.5 L1371.2 929.0 L1378.8 927.5 L1380.3 921.4 L1377.3 916.9 L1380.3 912.4 L1387.8 910.1 L1393.8 907.1 L1401.4 908.6 L1405.9 912.4 L1413.5 906.4 L1419.5 903.3 L1425.5 907.1 L1430.0 900.3 L1436.1 898.8 L1445.1 897.3 L1449.7 889.8 L1454.2 882.2 L1458.7 874.7 L1463.2 870.2 L1470.8 867.1 L1475.3 859.6 L1476.8 850.6 L1484.3 851.3 L1487.5 851.3 L1493.6 858.0 L1501.1 862.6 L1510.2 864.1 L1517.7 862.6 L1525.2 865.6 L1532.0 859.5 L1536.6 860.3 L1540.3 865.6 L1546.4 869.4"/>
<path d="M1380.3 912.4 L1378.8 904.9 L1380.3 897.3 L1384.8 891.3 L1389.3 883.7 L1392.3 874.7 L1392.3 867.1 L1389.3 859.6 L1387.9 860.6 L1382.6 755.0"/>
<path d="M1546.4 869.4 L1553.9 865.6 L1555.4 856.5 L1558.4 849.0 L1564.5 843.7 L1567.5 849.0 L1569.0 841.4 L1570.5 835.4 L1576.5 827.1 L1584.1 824.9 L1590.1 817.3 L1593.1 809.8 L1594.6 800.7 L1593.1 793.2 L1594.6 785.6 L1599.2 778.1"/>
<path d="M1546.4 869.4 L1547.9 877.6 L1550.9 885.2 L1556.9 892.7 L1563.0 900.3 L1569.0 904.8 L1564.5 912.3 L1555.4 919.9 L1549.4 925.9 L1546.4 933.5 L1538.8 939.5 L1529.8 944.0 L1522.2 947.0"/>
<path d="M1569.0 904.8 L1573.5 906.3 L1578.0 912.3 L1585.6 915.4 L1594.6 910.8 L1603.7 907.8 L1611.2 901.8 L1621.8 895.7 L1623.3 888.2 L1629.3 874.6 L1633.8 858.0 L1636.9 849.7 L1647.4 854.3 L1650.4 847.5 L1651.9 838.4 L1655.0 830.9 L1658.0 823.3 L1662.5 817.3 L1665.5 809.8"/>
<path d="M1588.1 717.8 L1591.9 760.6 L1600.7 790.2 L1601.4 808.3 L1635.4 804.5 L1665.5 798.5 L1698.7 790.9"/>
<path d="M1635.4 804.5 L1636.1 824.9 L1645.9 815.8 L1650.4 811.3 L1659.5 803.7 L1665.5 809.8"/>
<path d="M1336.5 970.0 L1385.6 966.7 L1385.1 960.7 L1451.2 955.8 L1480.0 953.1"/>
<path d="M1480.0 953.1 L1522.2 947.0 L1585.6 939.5 L1645.9 931.9 L1728.9 916.9 L1774.1 907.1"/>
<path d="M1174.8 976.2 L1240.0 975.7 L1318.4 972.7 L1321.4 976.5 L1318.4 983.3 L1312.4 988.6 L1313.9 990.8 L1330.5 990.8"/>
<path d="M1315.4 1031.6 L1384.8 1028.5 L1469.3 1021.7 L1500.0 1015.1 L1510.6 1012.8 L1545.2 1010.5"/>
<path d="M1587.1 941.0 L1585.6 950.0 L1579.5 954.6 L1578.0 960.6 L1569.0 962.1 L1561.4 966.6 L1552.4 972.7 L1544.9 978.7 L1537.3 984.7 L1526.8 989.3 L1519.2 995.3 L1517.7 1000.0 L1521.1 993.2 L1518.1 999.2 L1512.1 1003.7 L1510.6 1012.8"/>
<path d="M1545.2 1010.5 L1572.4 997.0 L1593.5 996.2 L1614.6 993.9 L1619.2 997.7 L1625.2 999.2 L1626.7 1004.5 L1650.8 1000.7 L1662.9 999.5 L1706.6 1032.4"/>
<path d="M1548.3 1011.3 L1543.7 1020.3 L1549.8 1024.9 L1558.8 1029.4 L1564.9 1038.4 L1572.4 1046.0 L1581.4 1053.5 L1590.5 1062.6 L1598.0 1068.6 L1604.1 1076.1 L1614.6 1080.7 L1619.2 1088.2 L1622.2 1095.7 L1629.7 1103.3 L1632.7 1112.3 L1635.7 1115.4 L1641.8 1116.9"/>
<path d="M1387.1 1029.3 L1387.0 1060.0 L1387.0 1155.5 L1393.3 1214.6"/>
<path d="M1469.3 1022.5 L1475.3 1040.6 L1480.0 1060.0 L1498.9 1114.0 L1503.9 1125.4 L1498.9 1135.4 L1501.4 1155.5 L1506.4 1175.6 L1512.7 1186.9"/>
<path d="M1512.7 1186.9 L1601.9 1181.9 L1604.4 1185.7 L1612.0 1186.9 L1612.0 1178.1 L1607.0 1171.9 L1622.0 1170.6"/>
<path d="M1505.2 1176.9 L1417.2 1185.7 L1423.5 1198.3 L1428.5 1204.5 L1427.2 1210.8 L1423.5 1214.6"/>
<path d="M1197.5 1115.3 L1250.0 1114.0 L1250.0 1114.0 L1290.2 1112.8"/>
<path d="M1181.9 1093.1 L1196.2 1094.3 L1196.2 1093.9 L1197.5 1158.0 L1203.7 1165.6 L1207.5 1178.1 L1215.1 1190.7 L1215.1 1203.3 L1210.0 1215.9 L1208.8 1230.9 L1203.7 1243.5 L1205.0 1249.8"/>
<path d="M998.9 1052.9 L1006.4 1059.1 L1017.7 1057.9 L1024.0 1066.7 L1036.6 1070.5 L1049.1 1074.2 L1061.7 1075.5 L1068.0 1081.8 L1079.3 1080.5 L1089.4 1086.8 L1096.9 1081.8 L1107.0 1084.3 L1117.0 1086.8 L1127.1 1084.3 L1137.1 1080.5 L1152.2 1081.8 L1162.3 1079.3 L1172.3 1088.1 L1182.4 1094.3"/>
<path d="M1173.6 956.1 L1174.8 976.2 L1180.4 1018.9 L1181.9 1093.1"/>
<path d="M768.9 1139.2 L771.4 1146.7"/>
<path d="M1283.9 568.6 L1291.5 577.4 L1312.8 582.5 L1335.5 588.8 L1350.6 592.5 L1358.1 600.1 L1360.6 611.4 L1368.1 622.2"/>
<path d="M1403.3 751.8 L1463.7 745.5 L1503.9 741.7"/>
<path d="M1463.7 745.5 L1471.2 820.9 L1475.0 856.1"/>
<path d="M1608.1 704.3 L1608.1 715.4 L1733.8 691.3 L1739.8 693.3 L1747.9 701.3 L1753.9 707.4 L1759.9 711.4 L1749.3 702.6 L1753.9 707.1 L1761.4 710.9 L1758.4 720.7 L1756.9 729.7"/>
<path d="M1761.4 710.9 L1791.6 719.2 L1790.1 725.2 L1789.3 732.7"/>
<path d="M1768.0 558.5 L1770.0 572.6 L1774.0 584.7 L1775.0 596.8 L1779.0 608.8 L1782.1 616.9 L1787.1 630.9 L1790.1 647.0 L1791.1 661.1 L1792.1 681.2 L1796.1 701.3 L1798.2 713.4 L1796.1 718.4"/>
<path d="M1818.3 546.5 L1820.3 554.5 L1822.3 564.6 L1818.3 571.6 L1811.2 577.6 L1810.2 588.7 L1809.2 604.8 L1809.8 620.9 L1810.2 641.0"/>
<path d="M1827.3 531.4 L1850.4 600.8 L1856.5 612.8 L1860.5 615.9"/>
<path d="M1791.1 647.0 L1810.2 642.0 L1846.4 635.0 L1852.4 630.9 L1859.5 624.9"/>
<path d="M1793.1 673.9 L1803.6 670.9 L1839.8 666.4"/>
<path d="M1755.4 815.7 L1758.4 830.8 L1780.3 826.2"/>
<path d="M1749.9 853.6 L1752.9 854.2"/>
<path d="M1764.0 850.6 L1778.0 845.6"/>
</g>
<g fill="none" stroke="#828282" stroke-width="4.6" stroke-linejoin="round" stroke-linecap="round" filter="url(#bs)">
<path d="M1346.3 948.7 L1347.2 951.7 L1348.6 954.5 L1349.0 957.8 L1345.8 959.5 L1348.0 963.2 L1345.7 965.5 L1342.7 965.2 L1340.5 967.1 L1339.5 968.7 L1336.1 972.8 L1337.4 975.2 L1339.0 977.5 L1336.2 978.9 L1337.1 982.7 L1335.5 984.6 L1333.9 986.4 L1333.2 990.2 L1333.7 992.8 L1333.8 994.8 L1331.2 997.1 L1330.2 1000.5 L1326.3 1002.3 L1326.5 1006.0 L1326.7 1008.7 L1322.8 1010.5 L1325.2 1013.7 L1323.5 1016.5 L1321.6 1019.2 L1320.7 1021.9 L1321.2 1025.3 L1317.0 1026.1 L1317.0 1029.6 L1316.7 1032.8 L1312.4 1033.8 L1313.4 1038.1 L1311.1 1040.7 L1308.5 1042.6 L1308.1 1045.7 L1307.3 1048.5 L1304.3 1050.2 L1303.9 1053.0 L1304.9 1056.6 L1300.6 1057.5 L1300.4 1060.8 L1299.4 1063.4 L1297.9 1066.3 L1296.5 1069.3 L1297.6 1073.0 L1294.7 1074.8 L1293.5 1077.2 L1295.1 1080.8 L1291.6 1082.3 L1290.5 1084.8 L1290.8 1087.5 L1292.1 1089.8 L1289.8 1093.3 L1293.1 1095.0 L1294.1 1097.4 L1293.6 1100.1 L1292.1 1102.5 L1294.5 1105.6 L1292.7 1107.8 L1290.6 1110.0 L1291.6 1112.7 L1293.8 1114.8 L1292.4 1118.3 L1294.0 1120.5 L1296.6 1122.4 L1296.6 1125.3 L1295.7 1128.4 L1299.4 1130.0 L1299.5 1132.7 L1298.8 1135.8 L1300.4 1138.0 L1302.9 1141.6 L1297.9 1141.7 L1298.1 1146.1 L1295.8 1148.1 L1294.0 1150.4 L1293.2 1152.8 L1295.9 1156.0 L1292.3 1157.9 L1292.2 1160.2 L1291.6 1163.3 L1290.4 1166.0 L1286.9 1167.3 L1287.3 1171.0 L1286.3 1173.4 L1282.6 1175.1 L1284.3 1178.3 L1283.9 1180.9 L1281.7 1183.0 L1280.1 1185.5 L1283.1 1188.9 L1279.3 1191.4 L1280.2 1194.5"/>
<path d="M371.7 476.4 L373.4 479.2 L375.0 481.2 L377.8 481.8 L380.2 484.6 L384.6 482.7 L384.4 485.6 L384.0 488.6 L386.1 490.7 L388.6 493.1 L385.9 495.8 L386.8 498.3 L388.1 500.7 L388.8 503.2 L386.6 507.7 L391.0 506.6 L393.5 508.5 L395.6 512.9 L398.4 510.0 L400.9 510.5 L403.3 512.3 L405.8 512.9 L408.5 510.7 L410.9 511.9 L413.3 514.2 L416.0 512.1 L418.5 512.0 L420.9 513.3 L423.5 513.3"/>
<path d="M1767.2 558.6 L1767.9 561.4 L1769.0 564.1 L1770.6 566.8 L1767.3 570.1 L1771.4 572.2 L1771.1 574.9 L1771.3 577.6 L1771.0 580.3 L1775.4 581.5 L1773.2 584.8 L1773.8 587.7 L1775.2 590.7 L1775.0 593.7 L1774.0 597.1 L1776.8 598.8 L1777.4 601.3 L1776.3 604.4 L1777.7 606.6 L1780.8 608.2 L1779.3 611.8 L1780.1 614.5 L1782.1 616.9"/>
<path d="M1817.5 546.7 L1818.4 549.3 L1819.7 551.8 L1821.8 554.2 L1818.5 557.5 L1822.0 559.4 L1822.4 561.9 L1822.5 564.7 L1819.3 566.0 L1821.4 570.3 L1818.0 571.3 L1815.6 573.2 L1813.9 576.0 L1811.2 577.6"/>
<path d="M1368.8 944.5 L1370.2 942.2 L1371.1 939.6 L1368.8 937.0 L1369.4 934.3 L1368.5 930.5 L1371.2 928.7 L1374.0 929.8 L1376.3 928.0 L1377.1 927.1 L1380.6 924.7 L1380.7 921.2 L1377.1 920.3 L1378.6 917.8 L1378.8 914.7 L1379.6 912.5 L1379.0 910.0 L1381.3 907.0 L1377.6 904.6 L1378.6 902.2 L1380.5 900.0 L1381.1 898.0 L1380.5 894.3 L1383.2 893.2 L1384.8 891.3"/>
<path d="M1078.9 1081.2 L1081.6 1082.5 L1084.5 1083.3 L1087.3 1084.5 L1090.4 1088.4 L1091.1 1083.9 L1094.2 1083.2 L1096.4 1083.6 L1099.8 1081.0 L1102.0 1082.6 L1104.2 1084.6 L1106.8 1084.8 L1109.9 1083.2 L1111.8 1086.2 L1114.2 1087.2 L1116.8 1085.8 L1119.3 1085.4 L1122.4 1086.9 L1124.6 1085.1 L1127.1 1084.3"/>
<path d="M1341.1 1206.2 L1343.1 1208.5 L1345.5 1210.6 L1347.3 1213.0 L1346.9 1216.7 L1351.1 1217.6 L1351.8 1220.7 L1353.1 1223.4"/>
</g>
<g fill-opacity="0.77" stroke-width="1.4" stroke-opacity="0.85">
<circle cx="1795.1" cy="729.5" r="76.4" fill="#63666A" stroke="#4c4f53"/>
<circle cx="402.6" cy="989.3" r="61.6" fill="#E8C070" stroke="#D9B060"/>
<circle cx="1373.2" cy="755.0" r="53.3" fill="#63666A" stroke="#4c4f53"/>
<circle cx="1097.4" cy="1123.4" r="49.8" fill="#63666A" stroke="#4c4f53"/>
<circle cx="1152.2" cy="1246.5" r="48.5" fill="#63666A" stroke="#4c4f53"/>
<circle cx="1515.0" cy="1064.0" r="44.7" fill="#63666A" stroke="#4c4f53"/>
<circle cx="1693.7" cy="1347.3" r="44.7" fill="#63666A" stroke="#4c4f53"/>
<circle cx="1701.6" cy="827.5" r="44.6" fill="#63666A" stroke="#4c4f53"/>
<circle cx="1757.9" cy="770.7" r="44.0" fill="#63666A" stroke="#4c4f53"/>
<circle cx="595.1" cy="1065.9" r="40.7" fill="#E8C070" stroke="#D9B060"/>
<circle cx="1858.5" cy="640.0" r="39.8" fill="#63666A" stroke="#4c4f53"/>
<circle cx="473.0" cy="986.7" r="39.0" fill="#1F4038" stroke="#16302A"/>
<circle cx="312.1" cy="812.8" r="38.2" fill="#63666A" stroke="#4c4f53"/>
<circle cx="1505.2" cy="701.7" r="37.2" fill="#1F4038" stroke="#16302A"/>
<circle cx="431.7" cy="442.5" r="37.0" fill="#63666A" stroke="#4c4f53"/>
<circle cx="1207.5" cy="630.7" r="35.2" fill="#1F4038" stroke="#16302A"/>
<circle cx="438.8" cy="1042.0" r="33.4" fill="#63666A" stroke="#4c4f53"/>
<circle cx="856.3" cy="846.7" r="32.7" fill="#E8C070" stroke="#D9B060"/>
<circle cx="1608.2" cy="1279.5" r="32.7" fill="#1F4038" stroke="#16302A"/>
<circle cx="1624.0" cy="992.0" r="31.0" fill="#E8C070" stroke="#D9B060"/>
<circle cx="1647.9" cy="1261.1" r="30.9" fill="#63666A" stroke="#4c4f53"/>
<circle cx="1305.8" cy="881.7" r="30.7" fill="#1F4038" stroke="#16302A"/>
<circle cx="1726.4" cy="804.0" r="30.6" fill="#1F4038" stroke="#16302A"/>
<circle cx="1039.1" cy="1259.8" r="30.2" fill="#63666A" stroke="#4c4f53"/>
<circle cx="1073.0" cy="1227.7" r="29.7" fill="#E8C070" stroke="#D9B060"/>
<circle cx="393.3" cy="509.6" r="29.4" fill="#63666A" stroke="#4c4f53"/>
<circle cx="361.9" cy="784.4" r="28.9" fill="#E8C070" stroke="#D9B060"/>
<circle cx="522.5" cy="928.7" r="28.9" fill="#E8C070" stroke="#D9B060"/>
<circle cx="1617.3" cy="776.3" r="28.5" fill="#1F4038" stroke="#16302A"/>
<circle cx="1486.8" cy="852.3" r="28.2" fill="#1F4038" stroke="#16302A"/>
<circle cx="1178.1" cy="878.7" r="27.7" fill="#63666A" stroke="#4c4f53"/>
<circle cx="1531.5" cy="809.6" r="27.7" fill="#63666A" stroke="#4c4f53"/>
<circle cx="1563.0" cy="736.5" r="27.1" fill="#1F4038" stroke="#16302A"/>
<circle cx="1432.3" cy="828.9" r="27.1" fill="#63666A" stroke="#4c4f53"/>
<circle cx="1428.5" cy="979.3" r="27.1" fill="#63666A" stroke="#4c4f53"/>
<circle cx="331.4" cy="855.0" r="26.9" fill="#E8C070" stroke="#D9B060"/>
<circle cx="1622.8" cy="1192.0" r="25.1" fill="#63666A" stroke="#4c4f53"/>
<circle cx="1751.5" cy="900.3" r="25.1" fill="#1F4038" stroke="#16302A"/>
<circle cx="1859.5" cy="673.8" r="24.5" fill="#E8C070" stroke="#D9B060"/>
<circle cx="1368.2" cy="708.7" r="24.4" fill="#63666A" stroke="#4c4f53"/>
<circle cx="1694.7" cy="955.3" r="24.0" fill="#E8C070" stroke="#D9B060"/>
<circle cx="1081.1" cy="1019.7" r="23.1" fill="#1F4038" stroke="#16302A"/>
<circle cx="619.0" cy="768.3" r="22.1" fill="#E8C070" stroke="#D9B060"/>
<circle cx="1451.9" cy="890.5" r="22.1" fill="#1F4038" stroke="#16302A"/>
<circle cx="1331.7" cy="1030.3" r="22.1" fill="#1F4038" stroke="#16302A"/>
<circle cx="1713.3" cy="883.8" r="22.1" fill="#1F4038" stroke="#16302A"/>
<circle cx="1435.5" cy="1084.4" r="21.4" fill="#63666A" stroke="#4c4f53"/>
<circle cx="382.7" cy="869.1" r="20.9" fill="#1F4038" stroke="#16302A"/>
<circle cx="1822.3" cy="683.2" r="20.7" fill="#1F4038" stroke="#16302A"/>
<circle cx="1430.5" cy="700.0" r="20.6" fill="#1F4038" stroke="#16302A"/>
</g>
<rect x="1280" y="348" width="181.5" height="40.8" fill="#E8C070"/>
<rect x="1464.5" y="348" width="181" height="40.8" fill="#63666A"/>
<rect x="1649" y="348" width="181.5" height="40.8" fill="#1E3F37"/>
<text class="lg" transform="translate(1465.4,427) scale(0.95,1)" text-anchor="middle">5.3%</text>
<text class="lg" transform="translate(1649.2,427) scale(0.95,1)" text-anchor="middle">5.7%</text>
</svg>
<div class="t" id="t1">CHART 3</div>
<div class="t" id="t2"><span style="letter-spacing:-0.45px">Average </span><span style="letter-spacing:0.39px">Multifamily </span><span style="letter-spacing:-0.25px">Cap Rates</span></div>
<div class="t" id="t3"><span style="letter-spacing:-0.128px">Measured Over the Year Ending in Q2 </span><span style="letter-spacing:-0.69px">2025, 50 </span><span style="letter-spacing:0.327px">Largest Metro Areas by Population</span></div>
<div class="t" id="t4">Source:Chandan Economics</div>
<div id="ft">Created with Datawrapper</div>
</body></html>
